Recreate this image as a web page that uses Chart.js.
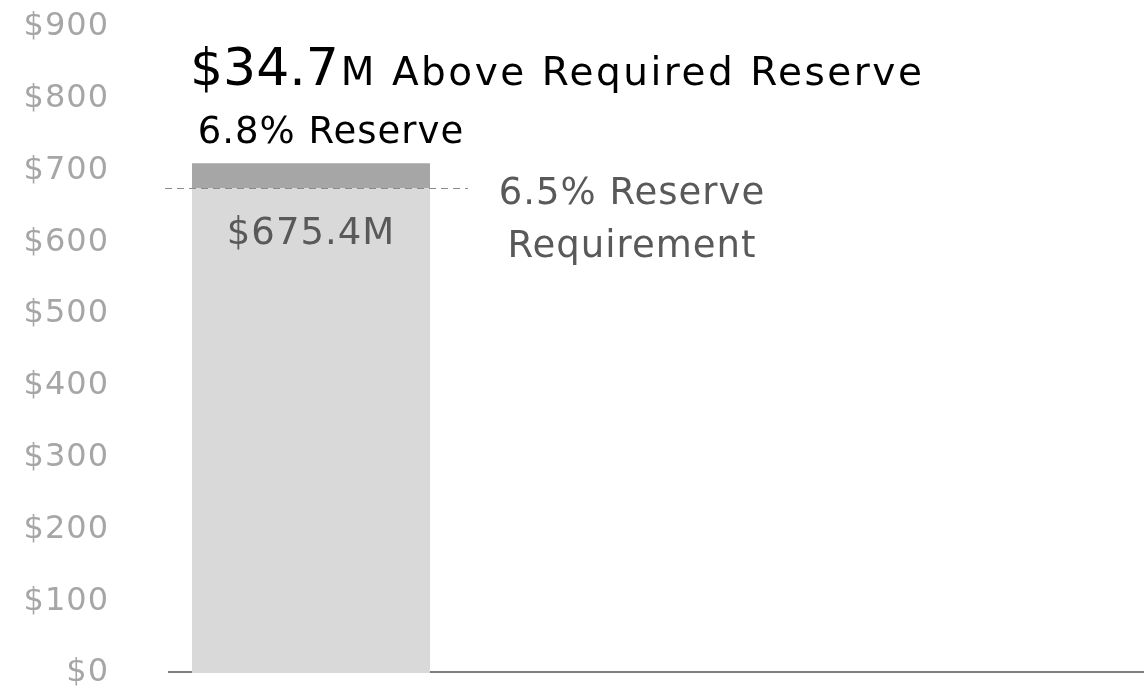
<!DOCTYPE html>
<html>
<head>
<meta charset="utf-8">
<script src="https://cdn.jsdelivr.net/npm/chart.js@4.4.1/dist/chart.umd.min.js"></script>
<style>
  html, body { margin: 0; padding: 0; background: #fff; }
  #wrap { width: 1144px; height: 688px; position: relative; }
</style>
</head>
<body>
<div id="wrap"><canvas id="reserveChart"></canvas></div>
<script>
// data
const categories = ["Reserve"];
const requiredReserve = [675.4];   // $M, 6.5% requirement
const aboveRequired = [34.7];      // $M above requirement
const yTicks = [0, 100, 200, 300, 400, 500, 600, 700, 800, 900];

const FONT = "'DejaVu Sans', sans-serif";

// a bit of letter spacing for tick labels (reference font is a wide geometric face)
const spacing = {
    id: "spacing",
    beforeDraw(chart) { chart.ctx.letterSpacing = "1px"; },
    afterDraw(chart) { chart.ctx.letterSpacing = "0px"; }
};

// baseline under the bar, the bar covers it
const baseline = {
    id: "baseline",
    beforeDatasetsDraw(chart) {
        const ctx = chart.ctx;
        const area = chart.chartArea;
        ctx.save();
        ctx.strokeStyle = "#7f7f7f";
        ctx.lineWidth = 2;
        ctx.beginPath();
        ctx.moveTo(area.left, area.bottom - 1);
        ctx.lineTo(chart.width, area.bottom - 1);
        ctx.stroke();
        ctx.restore();
    }
};

// annotations drawn on top of the bar
const annotations = {
    id: "annotations",
    afterDatasetsDraw(chart) {
        const ctx = chart.ctx;
        const y = chart.scales.y;
        const area = chart.chartArea;
        const base = chart.getDatasetMeta(0).data[0];
        const top = chart.getDatasetMeta(1).data[0];
        const barLeft = base.x - base.width / 2;
        const barRight = base.x + base.width / 2;
        const reqY = Math.round(y.getPixelForValue(requiredReserve[0]));

        ctx.save();
        // dashed requirement line
        ctx.letterSpacing = "0px";
        ctx.strokeStyle = "#8c8c8c";
        ctx.lineWidth = 1;
        ctx.setLineDash([7, 5]);
        ctx.beginPath();
        ctx.moveTo(area.left - 3, reqY + 0.5);
        ctx.lineTo(barRight + 38, reqY + 0.5);
        ctx.stroke();
        ctx.setLineDash([]);

        ctx.letterSpacing = "1px";
        ctx.textAlign = "center";
        ctx.textBaseline = "middle";
        ctx.font = "37px " + FONT;

        // value inside bar
        ctx.fillStyle = "#595959";
        ctx.fillText("$" + requiredReserve[0].toFixed(1) + "M", base.x, reqY + 46);

        // requirement label
        ctx.fillText("6.5% Reserve", barRight + 202, reqY + 6);
        ctx.fillText("Requirement", barRight + 202, reqY + 59);

        // reserve label above bar
        ctx.fillStyle = "#000";
        ctx.fillText("6.8% Reserve", base.x + 20, top.y - 30);

        // headline
        ctx.textAlign = "left";
        ctx.textBaseline = "alphabetic";
        ctx.letterSpacing = "0px";
        ctx.font = "52px " + FONT;
        const big = "$" + aboveRequired[0].toFixed(1);
        ctx.fillText(big, barLeft - 2, top.y - 78);
        const w = ctx.measureText(big).width;
        ctx.letterSpacing = "2.5px";
        ctx.font = "39px " + FONT;
        ctx.fillText("M Above Required Reserve", barLeft - 2 + w + 2, top.y - 78);
        ctx.restore();
    }
};

new Chart(document.getElementById("reserveChart"), {
    type: "bar",
    data: {
        labels: categories,
        datasets: [
            {
                label: "Required reserve",
                data: requiredReserve,
                backgroundColor: "#d9d9d9",
                barPercentage: 1,
                categoryPercentage: 238 / 286
            },
            {
                label: "Above required",
                data: aboveRequired,
                backgroundColor: "#a6a6a6",
                barPercentage: 1,
                categoryPercentage: 238 / 286
            }
        ]
    },
    options: {
        responsive: true,
        maintainAspectRatio: false,
        animation: false,
        layout: { padding: { top: 27, bottom: 15, left: 0, right: 1144 - 454 } },
        plugins: {
            legend: { display: false },
            tooltip: { enabled: false }
        },
        scales: {
            x: {
                stacked: true,
                display: false
            },
            y: {
                stacked: true,
                min: 0,
                max: 900,
                afterBuildTicks(scale) {
                    scale.ticks = yTicks.map(v => ({ value: v }));
                },
                afterFit(scale) {
                    scale.width = 168;
                    scale.paddingTop = 0;
                    scale.paddingBottom = 0;
                },
                border: { display: false },
                grid: { display: false, drawTicks: false },
                ticks: {
                    padding: 59,
                    color: "#a6a6a6",
                    font: { family: FONT, size: 32 },
                    callback: v => "$" + v
                }
            }
        }
    },
    plugins: [spacing, baseline, annotations]
});
</script>
</body>
</html>
